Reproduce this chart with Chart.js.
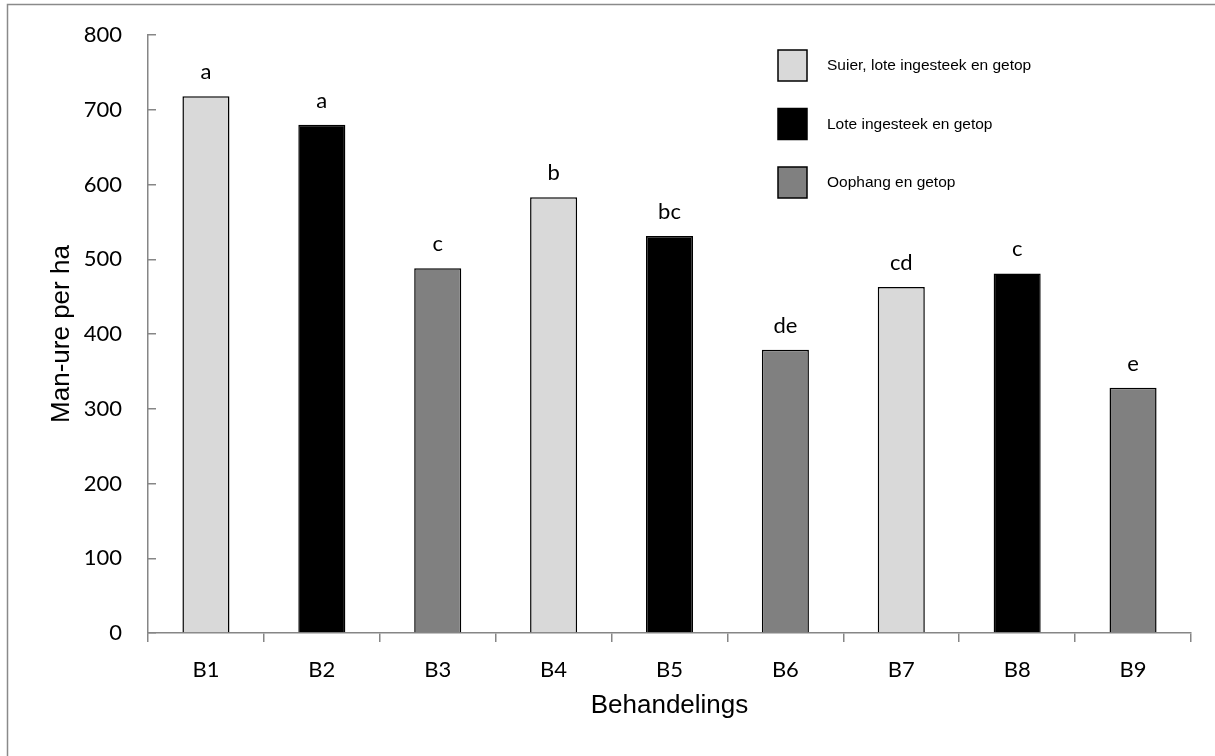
<!DOCTYPE html>
<html><head><meta charset="utf-8">
<script src="https://cdn.jsdelivr.net/npm/chart.js@4"></script>
<style>html,body{margin:0;padding:0;background:#fff;} canvas{display:block;}</style>
</head><body>
<canvas id="c" width="1215" height="756"></canvas>
<script>
const categories = ['B1','B2','B3','B4','B5','B6','B7','B8','B9'];
const seriesNames = ['Suier, lote ingesteek en getop','Lote ingesteek en getop','Oophang en getop'];
const seriesColors = ['#d9d9d9','#000000','#808080'];
const suierValues   = [718, null, null, 583, null, null, 463, null, null];
const loteValues    = [null, 680, null, null, 531, null, null, 481, null];
const oophangValues = [null, null, 488, null, null, 379, null, null, 328];
const letters = ['a','a','c','b','bc','de','cd','c','e'];
const yMin = 0, yMax = 800, yStep = 100;

const AXIS = '#868686';
const CAL = 'Lato, "Open Sans", sans-serif';
const ARIAL = '"Liberation Sans", Arial, sans-serif';

const framePlugin = {
  id: 'frame',
  beforeDraw(chart) {
    const ctx = chart.ctx;
    ctx.save();
    ctx.fillStyle = '#fff';
    ctx.fillRect(0, 0, chart.width, chart.height);
    ctx.strokeStyle = '#8a8a8a';
    ctx.lineWidth = 1.5;
    ctx.beginPath();
    ctx.moveTo(7.5, chart.height);
    ctx.lineTo(7.5, 4.5);
    ctx.lineTo(chart.width, 4.5);
    ctx.stroke();
    ctx.restore();
  }
};

const lettersPlugin = {
  id: 'letters',
  afterDatasetsDraw(chart) {
    const ctx = chart.ctx;
    ctx.save();
    ctx.font = '22px ' + CAL;
    ctx.fillStyle = '#000';
    ctx.textAlign = 'center';
    ctx.textBaseline = 'alphabetic';
    chart.data.datasets.forEach((ds, di) => {
      const meta = chart.getDatasetMeta(di);
      ds.data.forEach((v, i) => {
        if (v === null) return;
        const el = meta.data[i];
        ctx.fillText(letters[i], el.x, el.y - 17);
      });
    });
    ctx.restore();
  }
};

const legendPlugin = {
  id: 'customLegend',
  afterDraw(chart) {
    const ctx = chart.ctx;
    ctx.save();
    ctx.font = '15.5px ' + ARIAL;
    ctx.textBaseline = 'middle';
    ctx.textAlign = 'left';
    seriesNames.forEach((name, i) => {
      const top = 50 + i * 58.5;
      ctx.fillStyle = seriesColors[i];
      ctx.fillRect(778, top, 29, 31);
      ctx.strokeStyle = '#000';
      ctx.lineWidth = 1.5;
      ctx.strokeRect(778, top, 29, 31);
      ctx.fillStyle = '#000';
      ctx.fillText(name, 827, top + 16);
    });
    ctx.restore();
  }
};

const seriesValues = [suierValues, loteValues, oophangValues];

new Chart(document.getElementById('c'), {
  type: 'bar',
  data: {
    labels: categories,
    datasets: seriesNames.map((n, i) => ({
      label: n,
      data: seriesValues[i],
      backgroundColor: seriesColors[i],
      borderColor: '#000',
      borderWidth: 1.5,
      skipNull: true,
      categoryPercentage: 1,
      barPercentage: 0.406
    }))
  },
  options: {
    responsive: false,
    animation: false,
    devicePixelRatio: 1,
    layout: { padding: { left: 0, right: 24, top: 35, bottom: 0 } },
    plugins: { legend: { display: false }, tooltip: { enabled: false } },
    scales: {
      x: {
        grid: { offset: true, drawOnChartArea: false, tickLength: 9, color: AXIS, lineWidth: 1.5 },
        border: { color: AXIS, width: 1.5 },
        ticks: { font: { family: CAL, size: 22 }, color: '#000', padding: 15 },
        title: { display: true, text: 'Behandelings', font: { family: ARIAL, size: 26 }, color: '#000', padding: { top: 0, bottom: 35 } },
        afterFit(s) { s.height = 123; }
      },
      y: {
        min: yMin, max: yMax,
        ticks: { stepSize: yStep, font: { family: CAL, size: 22 }, color: '#000', padding: 34 },
        grid: { drawOnChartArea: false, tickLength: -8, color: AXIS, lineWidth: 1.5 },
        border: { color: AXIS, width: 1.5 },
        title: { display: true, text: 'Man-ure per ha', font: { family: ARIAL, size: 26 }, color: '#000', padding: { top: 46, bottom: 0 } },
        afterFit(s) { s.width = 148; s.paddingTop = 10; s.paddingBottom = 10; }
      }
    }
  },
  plugins: [framePlugin, lettersPlugin, legendPlugin]
});
</script>
</body></html>
